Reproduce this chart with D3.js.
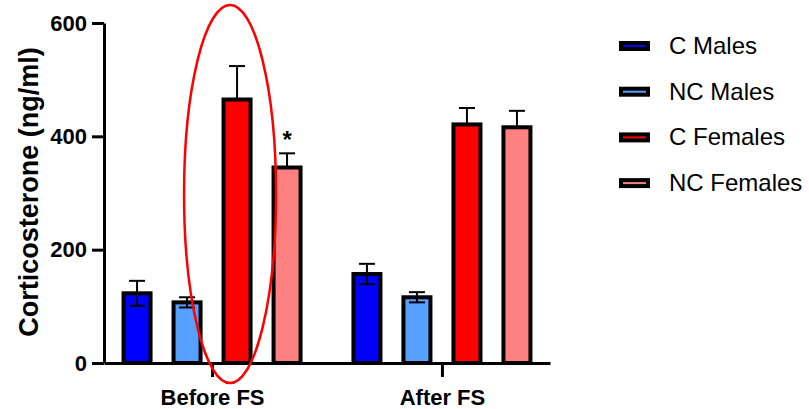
<!DOCTYPE html>
<html>
<head>
<meta charset="utf-8">
<script src="https://cdn.jsdelivr.net/npm/d3@7"></script>
<style>
  body { margin: 0; background: #fff; }
  svg { display: block; font-family: "Liberation Sans", Arial, sans-serif; }
</style>
</head>
<body>
<div id="chart"></div>
<script>
// data
var groups = ["Before FS", "After FS"];
var series = ["C Males", "NC Males", "C Females", "NC Females"];
var means = [
    [123, 107, 465, 345],   // Before FS
    [157, 116, 421, 416]    // After FS
];
var sems = [
    [22, 9, 59, 25],
    [18, 9, 29, 29]
];
var yTicks = [0, 200, 400, 600];

var colors = ["#0000ff", "#56a0ff", "#ff0000", "#ff8080"];
// males show the whisker both ways, females only upward
var bothWays = [true, true, false, false];

var width = 809, height = 409;

var svg = d3.select("#chart")
    .append("svg")
    .attr("width", width)
    .attr("height", height);

var x = d3.scalePoint()
    .domain(groups)
    .range([104, 550])
    .padding(0.47);

var xs = d3.scaleBand()
    .domain(series)
    .range([-100, 100])
    .paddingInner(0.46)
    .paddingOuter(0.23);

var y = d3.scaleLinear()
    .domain([0, 600])
    .range([363, 23]);

// bars
var rows = [];
groups.forEach(function(g, i) {
    series.forEach(function(s, j) {
        rows.push({ group: g, series: s, j: j, mean: means[i][j], sem: sems[i][j] });
    });
});

svg.append("g")
    .selectAll("rect")
    .data(rows)
    .enter()
    .append("rect")
    .attr("x", function(d) { return x(d.group) + xs(d.series); })
    .attr("y", function(d) { return y(d.mean); })
    .attr("width", xs.bandwidth())
    .attr("height", function(d) { return y(0) - y(d.mean); })
    .attr("fill", function(d) { return colors[d.j]; })
    .attr("stroke", "#000")
    .attr("stroke-width", 4);

// error bars
var eb = svg.append("g")
    .attr("stroke", "#000")
    .attr("stroke-width", 2)
    .selectAll("g")
    .data(rows)
    .enter()
    .append("g")
    .attr("transform", function(d) {
        return "translate(" + (x(d.group) + xs(d.series) + xs.bandwidth() / 2) + ",0)";
    });

eb.append("line")
    .attr("x1", 0).attr("x2", 0)
    .attr("y1", function(d) { return bothWays[d.j] ? y(d.mean - d.sem) : y(d.mean); })
    .attr("y2", function(d) { return y(d.mean + d.sem); });

eb.append("line")
    .attr("x1", -8).attr("x2", 8)
    .attr("y1", function(d) { return y(d.mean + d.sem); })
    .attr("y2", function(d) { return y(d.mean + d.sem); });

eb.filter(function(d) { return bothWays[d.j]; })
    .append("line")
    .attr("x1", -8).attr("x2", 8)
    .attr("y1", function(d) { return y(d.mean - d.sem); })
    .attr("y2", function(d) { return y(d.mean - d.sem); });

// significance star on NC Females, Before FS
var star = rows[3];
svg.append("text")
    .attr("x", x(star.group) + xs(star.series) + xs.bandwidth() / 2)
    .attr("y", y(star.mean + star.sem) - 5)
    .attr("text-anchor", "middle")
    .style("font-size", "24px")
    .style("font-weight", "bold")
    .text("*");

// Y axis
var yAxis = svg.append("g")
    .attr("transform", "translate(104,0)")
    .call(d3.axisLeft(y).tickValues(yTicks).tickSize(12).tickSizeOuter(0).tickPadding(5));
yAxis.select(".domain").attr("stroke-width", 3);
yAxis.selectAll(".tick line").attr("stroke-width", 3);
yAxis.selectAll(".tick text")
    .attr("fill", "#000")
    .style("font-size", "22px")
    .style("font-weight", "bold")
    .style("font-family", "Liberation Sans, Arial, sans-serif");

// X axis
var xAxis = svg.append("g")
    .attr("transform", "translate(0,363)")
    .call(d3.axisBottom(x).tickSize(14).tickSizeOuter(0).tickPadding(12));
xAxis.select(".domain").attr("stroke-width", 3);
xAxis.selectAll(".tick line").attr("stroke-width", 3);
xAxis.selectAll(".tick text")
    .attr("fill", "#000")
    .style("font-size", "22px")
    .style("font-weight", "bold")
    .style("font-family", "Liberation Sans, Arial, sans-serif");

// axis title
svg.append("text")
    .attr("transform", "translate(38,192) rotate(-90)")
    .attr("text-anchor", "middle")
    .style("font-size", "27px")
    .style("font-weight", "bold")
    .text("Corticosterone (ng/ml)");

// red ellipse highlight
svg.append("ellipse")
    .attr("cx", x("Before FS") + 18)
    .attr("cy", 194)
    .attr("rx", 46)
    .attr("ry", 189)
    .attr("fill", "none")
    .attr("stroke", "#ff0000")
    .attr("stroke-width", 2.5);

// legend
var legend = svg.append("g")
    .selectAll("g")
    .data(series)
    .enter()
    .append("g")
    .attr("transform", function(d, i) { return "translate(621," + (46 + i * 45.7) + ")"; });

legend.append("rect")
    .attr("x", 0)
    .attr("y", -3)
    .attr("width", 27)
    .attr("height", 6)
    .attr("fill", function(d, i) { return colors[i]; })
    .attr("stroke", "#000")
    .attr("stroke-width", 4);

legend.append("text")
    .attr("x", 48)
    .attr("y", 8)
    .style("font-size", "24px")
    .text(function(d) { return d; });
</script>
</body>
</html>
